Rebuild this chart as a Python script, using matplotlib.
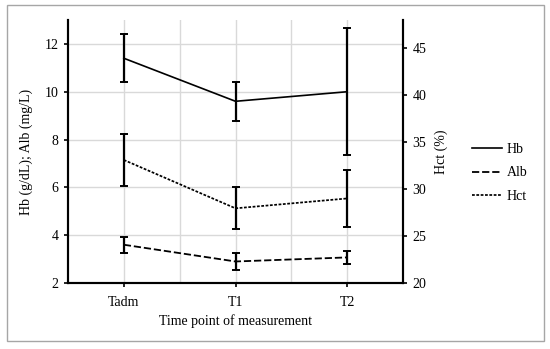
import matplotlib.pyplot as plt
from matplotlib.lines import Line2D
from matplotlib.patches import Rectangle
import numpy as np

plt.rcParams['font.family'] = 'Liberation Serif'
plt.rcParams['font.size'] = 10

# Data
time_points = ['Tadm', 'T1', 'T2']
hb_mean = [11.4, 9.6, 10.0]
hb_err = [1.0, 0.81, 2.65]
alb_mean = [3.6, 2.9, 3.07]
alb_err = [0.33, 0.34, 0.28]
hct_mean = [33.1, 27.95, 29.0]
hct_err = [2.75, 2.25, 3.0]

x = np.arange(len(time_points))

fig = plt.figure(figsize=(5.5, 3.49), dpi=100)
# outer gray frame
fig.patches.append(Rectangle((7 / 550, 1 - 341 / 349), 537 / 550, 336 / 349,
                             transform=fig.transFigure, fill=False,
                             edgecolor='#a6a6a6', linewidth=1.0))

ax = fig.add_axes([68 / 550, 1 - 283 / 349, 335 / 550, 263 / 349])
ax2 = ax.twinx()

grid_c = '#d9d9d9'
for yv in [4, 6, 8, 10, 12]:
    ax.axhline(yv, color=grid_c, linewidth=1.0, zorder=0)
for xv in [0, 0.5, 1, 1.5, 2]:
    ax.axvline(xv, color=grid_c, linewidth=1.0, zorder=0)

err_kw = dict(fmt='none', ecolor='black', elinewidth=1.6, capsize=3, capthick=1.4)
hct_dash = (1.6, 0.9)
alb_dash = (4.0, 1.6)

ax.errorbar(x, hb_mean, yerr=hb_err, **err_kw)
ax.plot(x, hb_mean, color='black', linewidth=1.2, label='Hb')
ax.errorbar(x, alb_mean, yerr=alb_err, **err_kw)
ax.plot(x, alb_mean, color='black', linewidth=1.3, dashes=alb_dash, label='Alb')
ax2.errorbar(x, hct_mean, yerr=hct_err, **err_kw)
ax2.plot(x, hct_mean, color='black', linewidth=1.25, dashes=hct_dash, label='Hct')

ax.set_xlim(-0.5, 2.5)
ax.set_ylim(2, 13)
ax2.set_ylim(20, 48)
ax.set_yticks([2, 4, 6, 8, 10, 12])
ax2.set_yticks([20, 25, 30, 35, 40, 45])
ax.set_xticks(x)
ax.set_xticklabels(time_points)

for a in (ax, ax2):
    a.spines['top'].set_visible(False)
    for s in ('left', 'right', 'bottom'):
        a.spines[s].set_linewidth(1.5)
        a.spines[s].set_color('black')
ax.tick_params(axis='y', length=3, width=1.2, pad=4)
ax2.tick_params(axis='y', length=3, width=1.2, pad=4)
ax.tick_params(axis='x', length=3, width=1.2, pad=6)

ax.set_xlabel('Time point of measurement', labelpad=4)
ax.set_ylabel('Hb (g/dL); Alb (mg/L)', labelpad=8)
ax2.set_ylabel('Hct (%)', labelpad=6)

handles = [Line2D([], [], color='black', linewidth=1.2),
           Line2D([], [], color='black', linewidth=1.3, dashes=alb_dash),
           Line2D([], [], color='black', linewidth=1.25, dashes=hct_dash)]
fig.legend(handles, ['Hb', 'Alb', 'Hct'], loc='center left',
           bbox_to_anchor=(459 / 550, 1 - 173 / 349), frameon=False,
           handlelength=2.2, handletextpad=0.35, labelspacing=0.75,
           borderpad=0.4)

fig.savefig('out.png', dpi=100)
